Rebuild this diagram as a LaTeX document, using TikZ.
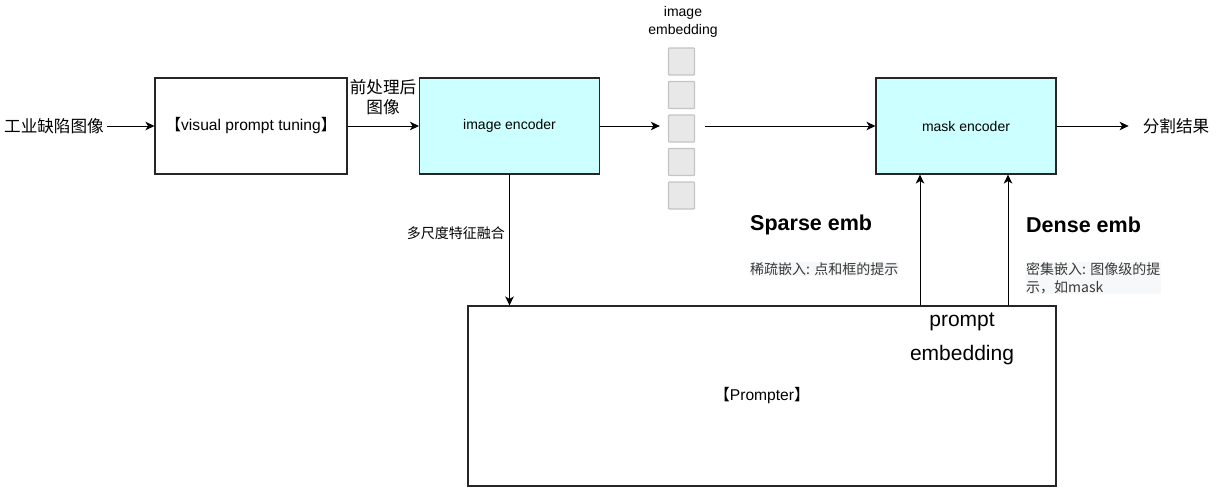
\documentclass[tikz,border=0pt]{standalone}
\usepackage{fontspec}
\setmainfont{Liberation Sans}
\newfontfamily\cjk{Noto Sans CJK SC}
\usetikzlibrary{arrows.meta,calc}
\definecolor{cyanfill}{HTML}{CCFFFF}
\definecolor{embfill}{HTML}{E8E8E8}
\definecolor{embline}{HTML}{C4C4C4}
\definecolor{notebg}{HTML}{F7F8F9}
\tikzset{
  box/.style={draw=black!85, line width=1.1pt, inner sep=0pt, minimum width=#1},
  encbox/.style={box=180pt, fill=cyanfill, minimum height=96pt, font=\fontsize{14}{16}\selectfont},
  embsq/.style={draw=embline, fill=embfill, line width=1.3pt, minimum width=26pt, minimum height=27pt, inner sep=0pt, rounded corners=0.8pt},
  arr/.style={-{Stealth[length=9pt,width=8.5pt,inset=2.5pt]}, line width=1pt, black},
  cjkbig/.style={font=\fontsize{16.6}{20}\selectfont\cjk, inner sep=1pt},
  note/.style={font=\fontsize{14}{18}\selectfont\cjk, text=black!78, fill=notebg, inner sep=0.5pt, align=left},
  head/.style={font=\fontsize{21.5}{24}\selectfont\bfseries, inner sep=0pt}
}
\begin{document}
\begin{tikzpicture}[x=1pt,y=-1pt]
\useasboundingbox (0,0) rectangle (1217,501);

% main boxes
\node[box=192pt, minimum height=96pt, font=\fontsize{15.6}{18}\selectfont] (vpt) at (251,126) {{\cjk 【}visual prompt tuning{\cjk 】}};
\node[encbox] (enc) at (509.5,126) {image encoder};
\node[encbox] (mask) at (966,126) {mask encoder};
\node[box=588pt, minimum height=180pt, font=\fontsize{15.6}{18}\selectfont] (prm) at (762,396) {{\cjk 【}Prompter{\cjk 】}};

% input / output text
\node[cjkbig] (in) at (54,126) {工业缺陷图像};
\node[cjkbig] (out) at (1176,126) {分割结果};
\node[cjkbig, align=center] (pre) at (383,97) {前处理后\\图像};

% image embedding column
\node[embsq] (e1) at (681.5,61.5) {};
\node[embsq] (e2) at (681.5,95) {};
\node[embsq] (e3) at (681.5,128.5) {};
\node[embsq] (e4) at (681.5,162) {};
\node[embsq] (e5) at (681.5,195.5) {};
\node[align=center, font=\fontsize{14}{18}\selectfont, inner sep=0pt] (embl) at (683,22) {image\\embedding};

% connectors
\draw[arr] (in.east) ++(2,0) -- (vpt.west);
\draw[arr] (vpt.east) -- (enc.west);
\draw[arr, shorten >=8pt] (enc.east) -- (e3.west |- enc.east);
\draw[arr, shorten <=10pt] (e3.east |- mask.west) -- (mask.west);
\draw[arr, shorten >=13pt] (mask.east) -- (out.west);
\draw[arr] (enc.south) -- (prm.north -| enc.south);
\node[font=\fontsize{14}{16}\selectfont\cjk, anchor=east, inner sep=0pt] (msf) at (505,233) {多尺度特征融合};

\coordinate (sx) at (920,0);
\coordinate (dx) at (1008,0);
\draw[arr] (prm.north -| sx) -- (mask.south -| sx);
\draw[arr] (prm.north -| dx) -- (mask.south -| dx);

% side labels
\node[head, anchor=west] (sp) at (750,225) {Sparse emb};
\node[note, anchor=west] (spn) at (749.5,269) {稀疏嵌入: 点和框的提示};
\node[head, anchor=west] (de) at (1026,225) {Dense emb};
\node[note, anchor=west] (den) at (1025.5,278) {密集嵌入: 图像级的提\\示，如mask};

\node[align=center, font=\fontsize{21}{34}\selectfont, inner sep=0pt] (pe) at (962,339) {prompt\\embedding};
\end{tikzpicture}
\end{document}
